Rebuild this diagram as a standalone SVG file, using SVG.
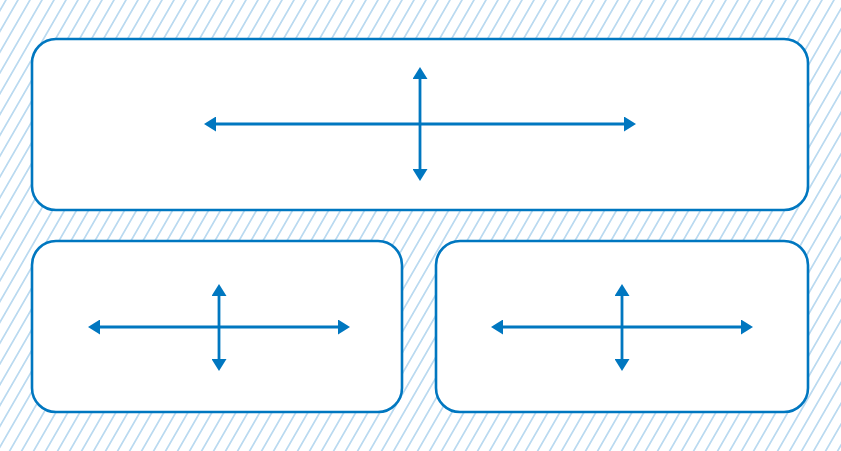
<svg xmlns="http://www.w3.org/2000/svg" width="841" height="451" viewBox="0 0 841 451">
<defs>
<pattern id="hatch" patternUnits="userSpaceOnUse" width="12" height="451" patternTransform="skewX(-30)">
<line x1="6" y1="0" x2="6" y2="451" stroke="#a9d1ec" stroke-width="1.6"/>
</pattern>
<marker id="ah" viewBox="0 0 12 15" refX="2" refY="7.5" markerWidth="12" markerHeight="15" markerUnits="userSpaceOnUse" orient="auto-start-reverse">
<path d="M0,0 L12,7.5 L0,15 Z" fill="#0077c0"/>
</marker>
</defs>
<style>
.box{fill:#ffffff;stroke:#0077c0;stroke-width:2.6}
.arr{stroke:#0077c0;stroke-width:2.8;fill:none;marker-start:url(#ah);marker-end:url(#ah)}
</style>
<rect x="0" y="0" width="841" height="451" fill="#ffffff"/>
<rect x="0" y="0" width="841" height="451" fill="url(#hatch)"/>
<g id="top-panel"><rect class="box" x="32" y="39" width="776" height="171" rx="24"/></g>
<g id="bottom-left-panel"><rect class="box" x="32" y="241" width="370" height="171" rx="24"/></g>
<g id="bottom-right-panel"><rect class="box" x="436" y="241" width="372" height="171" rx="24"/></g>
<g id="connectors">
<line class="arr" x1="214" y1="124" x2="626" y2="124"/>
<line class="arr" x1="420" y1="77" x2="420" y2="171"/>
<line class="arr" x1="98" y1="327" x2="340" y2="327"/>
<line class="arr" x1="219" y1="294" x2="219" y2="361"/>
<line class="arr" x1="501" y1="327" x2="743" y2="327"/>
<line class="arr" x1="622" y1="294" x2="622" y2="361"/>
</g>
</svg>
